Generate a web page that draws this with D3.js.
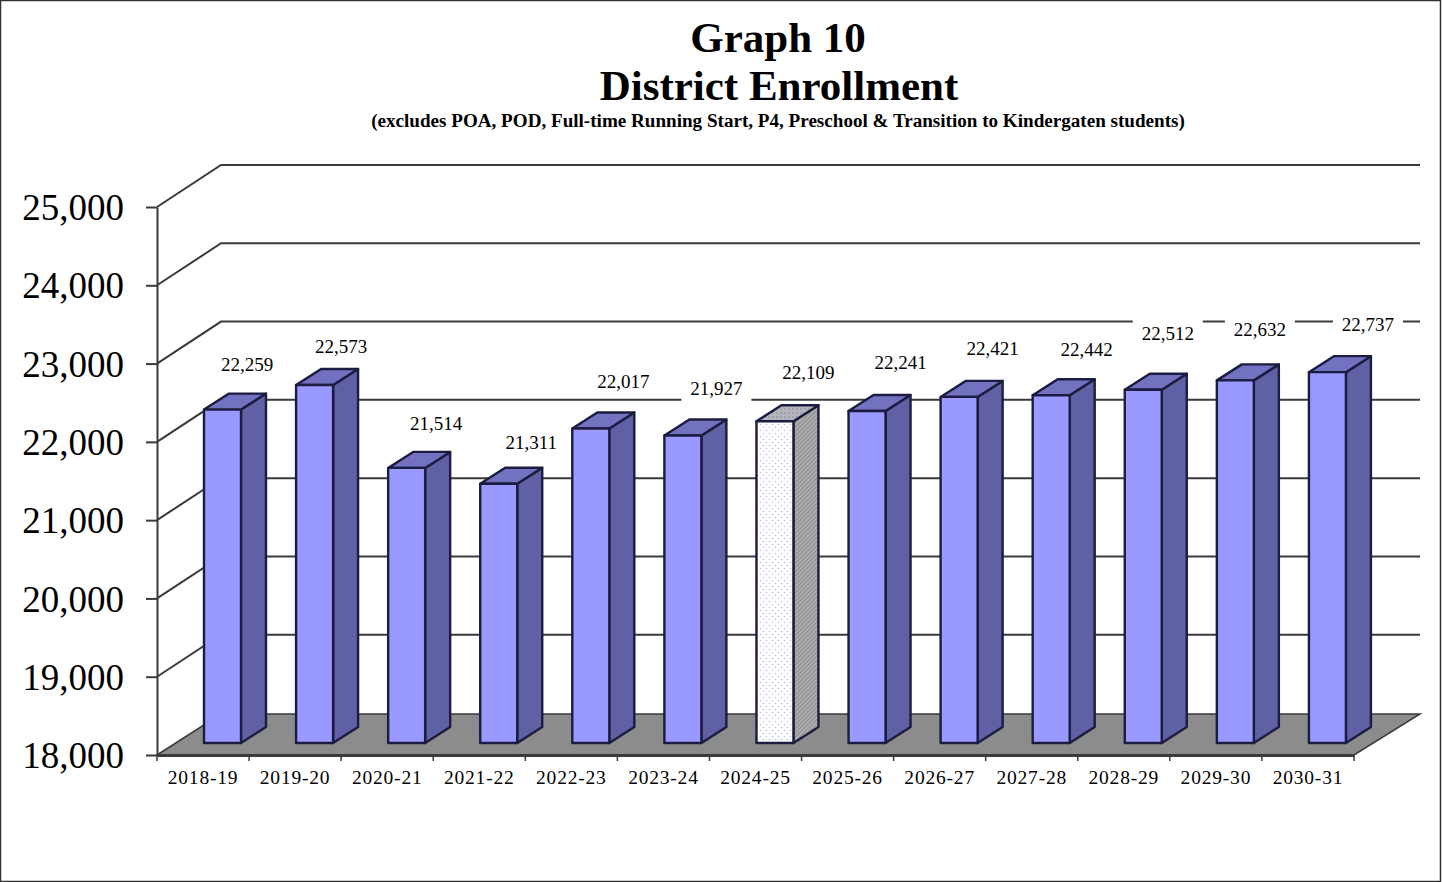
<!DOCTYPE html>
<html>
<head>
<meta charset="utf-8">
<script src="https://cdn.jsdelivr.net/npm/d3@7"></script>
<style>
  html, body { margin: 0; padding: 0; background: #fff; }
  svg { display: block; }
  text { font-family: "Liberation Serif", serif; fill: #000; }
</style>
</head>
<body>
<svg></svg>
<script>
var years = ["2018-19", "2019-20", "2020-21", "2021-22", "2022-23", "2023-24", "2024-25",
             "2025-26", "2026-27", "2027-28", "2028-29", "2029-30", "2030-31"];
var enrollment = [22259, 22573, 21514, 21311, 22017, 21927, 22109,
                  22241, 22421, 22442, 22512, 22632, 22737];
var yTicks = [18000, 19000, 20000, 21000, 22000, 23000, 24000, 25000];
var currentYear = "2024-25";

var svgWidth = 1442, svgHeight = 882;

// label placement relative to the bar, nudged by hand like the original
var labelDx = [43, 45, 48, 51, 51, 52, 52, 52, 52, 54, 43, 43, 59];
var labelDy = [45, 39, 45, 41, 47, 47, 49, 49, 49, 46, 56, 51, 48];

var svg = d3.select("svg").attr("width", svgWidth).attr("height", svgHeight);

var xScale = d3.scaleBand().domain(years).range([157, 1354]);
var yScale = d3.scaleLinear().domain([18000, 25000]).range([755, 207]);

var wallDx = 64, wallDy = 42, floorRight = 1420;
var barInset = 47, barWidth = 37, barLift = 12, barDx = 25, barDy = 16;
var lineColor = "#3a3a3a";

applyPatterns(svg);

// frame
svg.append("rect")
    .attr("x", 0.5).attr("y", 0.5)
    .attr("width", svgWidth - 2).attr("height", svgHeight - 1)
    .attr("fill", "#fff")
    .attr("stroke", "#333")
    .attr("stroke-width", 1.5);

// titles
svg.append("text").text("Graph 10")
    .attr("x", 778).attr("y", 52)
    .attr("text-anchor", "middle")
    .style("font-size", "43px").style("font-weight", "bold");
svg.append("text").text("District Enrollment")
    .attr("x", 779).attr("y", 100)
    .attr("text-anchor", "middle")
    .style("font-size", "43px").style("font-weight", "bold");
svg.append("text").text("(excludes POA, POD, Full-time Running Start, P4, Preschool & Transition to Kindergaten students)")
    .attr("x", 778).attr("y", 127)
    .attr("text-anchor", "middle")
    .style("font-size", "19.1px").style("font-weight", "bold");

// floor
var floor = [[xScale.range()[0], yScale(18000)],
             [xScale.range()[0] + wallDx, yScale(18000) - wallDy + 1],
             [floorRight, yScale(18000) - wallDy + 1],
             [xScale.range()[1], yScale(18000)]];
svg.append("polygon")
    .attr("points", floor.join(" "))
    .attr("fill", "#8c8c8c")
    .attr("stroke", lineColor)
    .attr("stroke-width", 1.5);

// gridlines, left wall then back wall
var grid = yTicks.slice(1);
svg.append("g").selectAll("path")
    .data(grid)
    .enter()
    .append("path")
    .attr("d", function(d) {
        var y0 = yScale(d);
        return "M157," + y0 + "L" + (157 + wallDx) + "," + (y0 - wallDy) + "L" + floorRight + "," + (y0 - wallDy);
    })
    .attr("fill", "none")
    .attr("stroke", lineColor)
    .attr("stroke-width", 2);

// white box behind each value label, it cuts the gridlines
svg.append("g").selectAll("rect")
    .data(enrollment)
    .enter()
    .append("rect")
    .attr("x", function(d, i) { return xScale(years[i]) + barInset + labelDx[i] - 35; })
    .attr("y", function(d, i) { return barTop(d) - labelDy[i] - 15; })
    .attr("width", 70)
    .attr("height", 30)
    .attr("fill", "#fff");

// axes
var yAxis = d3.axisLeft(yScale)
    .tickValues(yTicks)
    .tickFormat(d3.format(","))
    .tickSize(11)
    .tickSizeOuter(0)
    .tickPadding(22);
var yGroup = svg.append("g")
    .attr("transform", "translate(157,0)")
    .call(yAxis);
yGroup.selectAll("text").style("font-size", "37px").attr("dy", "0.34em");
yGroup.selectAll("line, path").attr("stroke", lineColor).attr("stroke-width", 2);

var xAxis = d3.axisBottom(xScale).tickSize(0).tickPadding(15);
var xGroup = svg.append("g")
    .attr("transform", "translate(0," + yScale(18000) + ")")
    .call(xAxis);
xGroup.select(".domain").attr("stroke", lineColor).attr("stroke-width", 3);
xGroup.selectAll("text").style("font-size", "19.5px").style("letter-spacing", "0.8px");

// x ticks sit on the band edges
svg.append("g").selectAll("line")
    .data(years.concat("end"))
    .enter()
    .append("line")
    .attr("x1", function(d, i) { return xScale.range()[0] + i * xScale.step(); })
    .attr("x2", function(d, i) { return xScale.range()[0] + i * xScale.step(); })
    .attr("y1", yScale(18000))
    .attr("y2", yScale(18000) + 6)
    .attr("stroke", lineColor)
    .attr("stroke-width", 1.5);

// bars
var bars = svg.append("g").selectAll("g")
    .data(enrollment)
    .enter()
    .append("g");

bars.append("polygon")
    .attr("points", function(d, i) {
        var x = xScale(years[i]) + barInset + barWidth, t = barTop(d), b = yScale(18000) - barLift;
        return [[x, t], [x + barDx, t - barDy], [x + barDx, b - barDy], [x, b]].join(" ");
    })
    .attr("fill", function(d, i) { return years[i] == currentYear ? "url(#hatch)" : "#6060a4"; });

bars.append("polygon")
    .attr("points", function(d, i) {
        var x = xScale(years[i]) + barInset, t = barTop(d);
        return [[x, t], [x + barDx, t - barDy], [x + barWidth + barDx, t - barDy], [x + barWidth, t]].join(" ");
    })
    .attr("fill", function(d, i) { return years[i] == currentYear ? "url(#topDots)" : "#7272c0"; });

bars.append("rect")
    .attr("x", function(d, i) { return xScale(years[i]) + barInset; })
    .attr("y", function(d) { return barTop(d); })
    .attr("width", barWidth)
    .attr("height", function(d) { return yScale(18000) - barLift - barTop(d); })
    .attr("fill", function(d, i) { return years[i] == currentYear ? "url(#dots)" : "#9999ff"; });

bars.selectAll("polygon, rect")
    .attr("stroke", "#1c1c40")
    .attr("stroke-width", 2.4)
    .attr("stroke-linejoin", "round");

// value labels
svg.append("g").selectAll("text")
    .data(enrollment)
    .enter()
    .append("text")
    .text(d3.format(","))
    .attr("x", function(d, i) { return xScale(years[i]) + barInset + labelDx[i]; })
    .attr("y", function(d, i) { return barTop(d) - labelDy[i]; })
    .attr("dy", "0.35em")
    .attr("text-anchor", "middle")
    .style("font-size", "19px");

function barTop(v) {
    return yScale(v) - barLift;
}

function applyPatterns(svg) {
    var defs = svg.append("defs");

    var dots = defs.append("pattern")
        .attr("id", "dots").attr("patternUnits", "userSpaceOnUse")
        .attr("width", 6).attr("height", 6);
    dots.append("rect").attr("width", 6).attr("height", 6).attr("fill", "#fff");
    dots.append("circle").attr("cx", 1.5).attr("cy", 1.5).attr("r", 0.8).attr("fill", "#b9b9f5");
    dots.append("circle").attr("cx", 4.5).attr("cy", 4.5).attr("r", 0.8).attr("fill", "#b9b9f5");

    var topDots = defs.append("pattern")
        .attr("id", "topDots").attr("patternUnits", "userSpaceOnUse")
        .attr("width", 4).attr("height", 4);
    topDots.append("rect").attr("width", 4).attr("height", 4).attr("fill", "#b4b4bc");
    topDots.append("circle").attr("cx", 1).attr("cy", 1).attr("r", 0.8).attr("fill", "#8c8c9c");

    var hatch = defs.append("pattern")
        .attr("id", "hatch").attr("patternUnits", "userSpaceOnUse")
        .attr("width", 3).attr("height", 3)
        .attr("patternTransform", "rotate(45)");
    hatch.append("rect").attr("width", 3).attr("height", 3).attr("fill", "#b0b0b0");
    hatch.append("rect").attr("width", 1.2).attr("height", 3).attr("fill", "#8e8e8e");
}
</script>
</body>
</html>
